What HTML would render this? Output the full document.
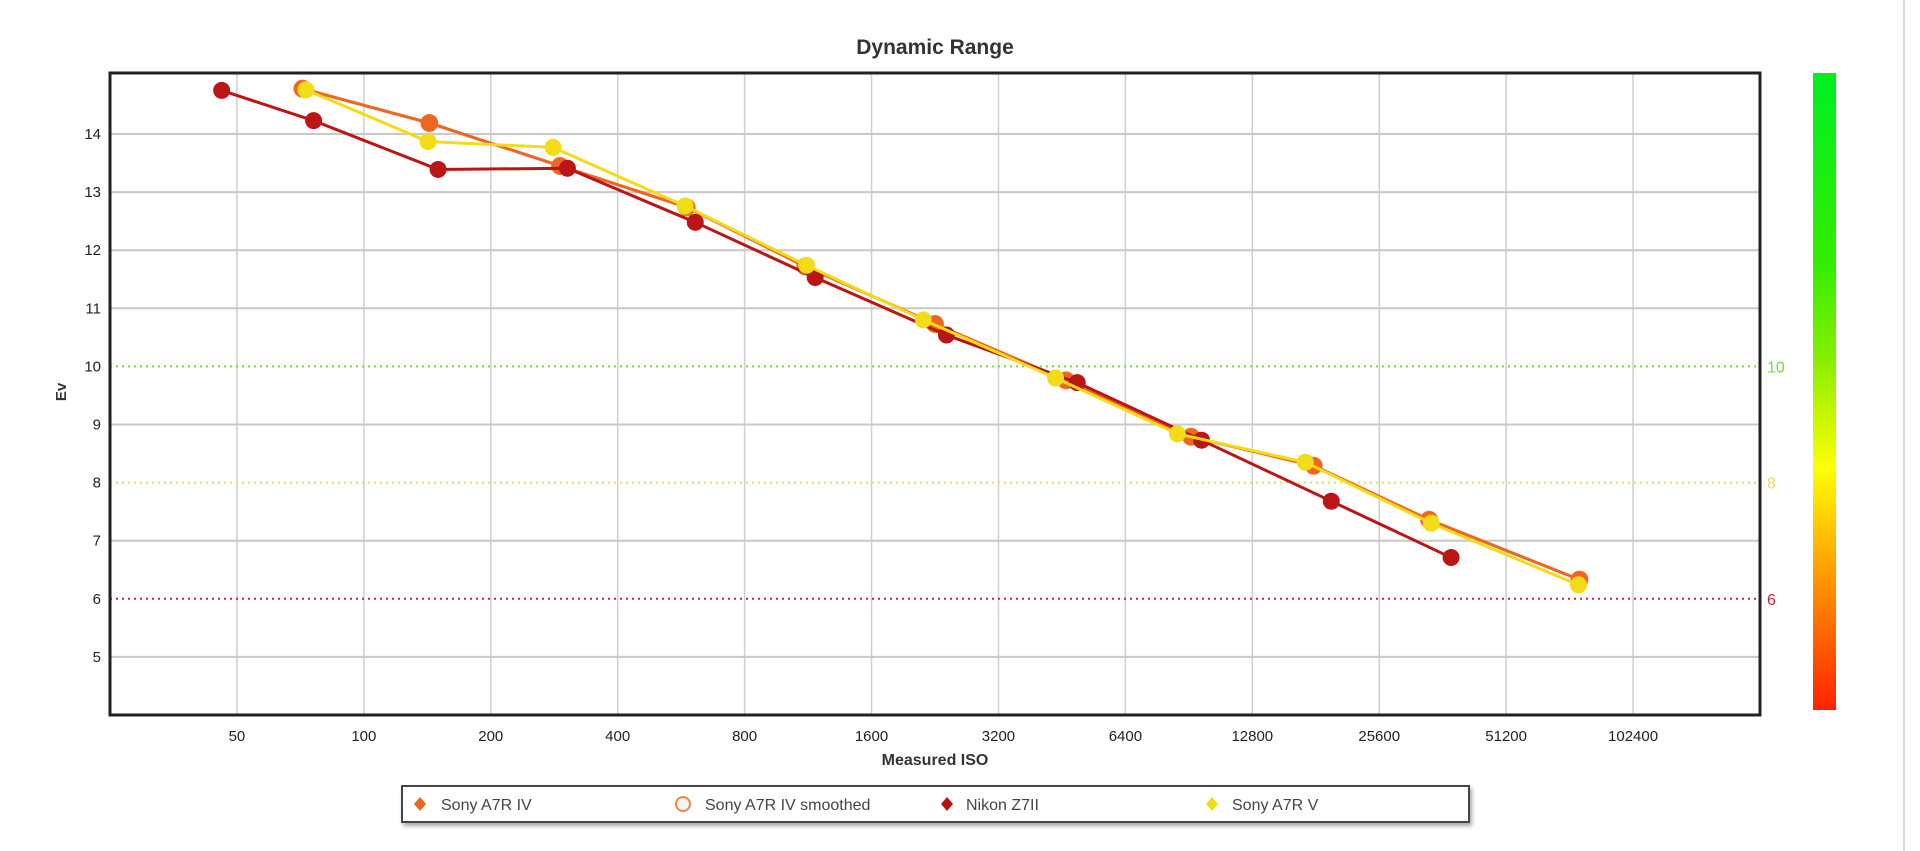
<!DOCTYPE html>
<html><head><meta charset="utf-8"><style>
body{margin:0;background:#fff;width:1920px;height:851px;overflow:hidden;font-family:"Liberation Sans","DejaVu Sans",sans-serif}
svg{display:block}
</style></head><body>
<svg id="chart" width="1920" height="851" xmlns="http://www.w3.org/2000/svg">
<defs>
<linearGradient id="cbar" x1="0" y1="0" x2="0" y2="1">
<stop offset="0" stop-color="#00ee22"/><stop offset="0.3" stop-color="#33ee00"/><stop offset="0.45" stop-color="#88ee00"/><stop offset="0.62" stop-color="#ffff00"/><stop offset="0.82" stop-color="#ff8800"/><stop offset="1" stop-color="#ff2200"/>
</linearGradient>
<filter id="sh" x="-5%" y="-20%" width="110%" height="160%"><feDropShadow dx="2" dy="3" stdDeviation="2" flood-color="#000" flood-opacity="0.35"/></filter>
</defs>
<line x1="1904" y1="0" x2="1904" y2="851" stroke="#ddd" stroke-width="2"/>
<text x="935" y="54" text-anchor="middle" font-size="21" font-weight="bold" fill="#333">Dynamic Range</text>
<g id="grid"></g>
<g id="series"></g>
<rect x="110" y="73" width="1650" height="642" fill="none" stroke="#222" stroke-width="3"/>
<text transform="translate(66,392) rotate(-90)" text-anchor="middle" font-size="15" font-weight="bold" fill="#333">Ev</text>
<text x="935" y="765" text-anchor="middle" font-size="16" font-weight="bold" fill="#333">Measured ISO</text>
<rect x="1813" y="73" width="23" height="637" fill="url(#cbar)"/>
<g>
<rect x="402" y="786" width="1067" height="36" fill="#fff" stroke="#444" stroke-width="2" filter="url(#sh)"/>
<g><path d="M420 797 l6 7 l-6 7 l-6 -7z" fill="#ee6622"/><text x="441" y="810" font-size="16" fill="#444">Sony A7R IV</text></g>
<g><circle cx="683" cy="804" r="7" fill="#f4f4f4" stroke="#ee8844" stroke-width="2"/><text x="705" y="810" font-size="16" fill="#444">Sony A7R IV smoothed</text></g>
<g><path d="M947 797 l6 7 l-6 7 l-6 -7z" fill="#bb1111"/><text x="966" y="810" font-size="16" fill="#444">Nikon Z7II</text></g>
<g><path d="M1212 797 l6 7 l-6 7 l-6 -7z" fill="#eedd11"/><text x="1232" y="810" font-size="16" fill="#444">Sony A7R V</text></g>
</g>
</svg>
<script>
const xTicks=[50,100,200,400,800,1600,3200,6400,12800,25600,51200,102400];
const yTicks=[5,6,7,8,9,10,11,12,13,14];
const thresholds=[10,8,6];
const thresholdColors=["#77dd33","#eedd55","#cc2233"];
const sonyIVIso=[71.5,143,292,583,1114,2263,4630,9160,17900,33600,76400];
const sonyIVEv=[14.78,14.19,13.45,12.74,11.72,10.73,9.76,8.79,8.29,7.36,6.33];
const sonyIVSmIso=[71.5,143,292,583,1114,2263,4630,9160,17900,33600,76400];
const sonyIVSmEv=[14.78,14.19,13.45,12.74,11.72,10.73,9.76,8.79,8.29,7.36,6.33];
const nikonIso=[46,76,150,304,611,1176,2409,4920,9700,19700,37900];
const nikonEv=[14.75,14.23,13.39,13.41,12.48,11.53,10.54,9.72,8.73,7.68,6.71];
const sonyVIso=[72.9,142,281,578,1122,2123,4370,8500,17100,34000,76000];
const sonyVEv=[14.76,13.87,13.77,12.76,11.74,10.8,9.8,8.84,8.35,7.3,6.24];

const L=110,R=1760,T=73,B=715,XMIN=25,XMAX=204800,YMIN=4,YMAX=15.05;
const xs=v=>L+(Math.log2(v)-Math.log2(XMIN))/(Math.log2(XMAX)-Math.log2(XMIN))*(R-L);
const ys=v=>B-(v-YMIN)/(YMAX-YMIN)*(B-T);
const NS="http://www.w3.org/2000/svg";
function mk(tag,attrs,parent){const e=document.createElementNS(NS,tag);for(const k in attrs)e.setAttribute(k,attrs[k]);parent.appendChild(e);return e;}
const grid=document.getElementById('grid'),ser=document.getElementById('series');
xTicks.forEach(t=>{
 const g=mk('line',{x1:xs(t),x2:xs(t),y1:T,y2:B,stroke:'#cfcfcf','stroke-width':1.5},grid);
 
 
 const l=mk('text',{x:xs(t),y:741,'text-anchor':'middle','font-size':15,fill:'#222'},grid);
 l.textContent=t;
 
 
});
yTicks.forEach(t=>{
 if(thresholds.indexOf(t)<0){
 const g=mk('line',{x1:L,x2:R,y1:ys(t),y2:ys(t),stroke:'#c8c8c8','stroke-width':2},grid);
 
 }
 const l=mk('text',{x:101,y:ys(t)+5,'text-anchor':'end','font-size':15,fill:'#222'},grid);
 l.textContent=t;
 
 
});
thresholds.forEach((t,i)=>{
 const g=mk('line',{x1:L,x2:R,y1:ys(t),y2:ys(t),stroke:thresholdColors[i],'stroke-width':2,'stroke-dasharray':'2 4'},grid);
 
 
 const l=mk('text',{x:1767,y:ys(t)+6,'font-size':16,fill:thresholdColors[i]},grid);
 l.textContent=t;
 
 
});
function series(iso,ev,color,name,open){
 const pts=iso.map((v,i)=>xs(v)+','+ys(ev[i])).join(' ');
 const pl=mk('polyline',{points:pts,fill:'none',stroke:color,'stroke-width':3,'stroke-linejoin':'round'},ser);
 
 
 iso.forEach((v,i)=>{
  const c=mk('circle',{cx:xs(v),cy:ys(ev[i]),r:open?8:8.5,fill:open?'#fff':color,stroke:open?color:'none','stroke-width':2},ser);
  
  
 });
}
series(sonyIVSmIso,sonyIVSmEv,'#ee8844','sony-a7r-iv-smoothed',true);
series(sonyIVIso,sonyIVEv,'#ee6622','sony-a7r-iv',false);
series(nikonIso,nikonEv,'#bb1515','nikon-z7ii',false);
series(sonyVIso,sonyVEv,'#f2dc18','sony-a7r-v',false);
</script>
</body></html>
